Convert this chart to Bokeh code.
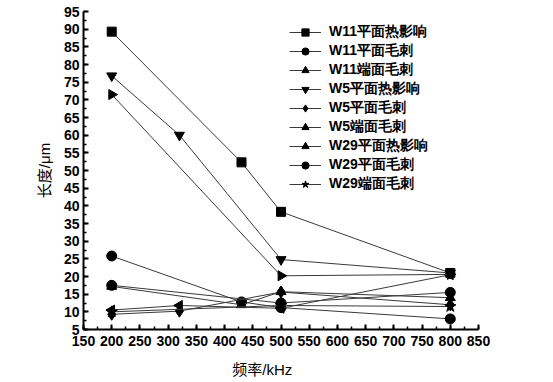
from bokeh.plotting import figure
from bokeh.models import SingleIntervalTicker, Legend, LegendItem, Range1d
from bokeh.embed import file_html
from bokeh.resources import INLINE

# ---- data ----
w11_x = [200, 430, 500, 800]
w5_x = [200, 320, 500, 800]
w29_x = [200, 500, 800]

w11_flat_haz = [89.3, 52.3, 38.3, 21.0]
w11_flat_burr = [25.8, 12.8, 11.2, 8.0]
w11_end_burr = [17.2, 12.0, 15.7, 14.0]
w5_flat_haz = [76.8, 60.0, 24.8, 21.0]
w5_flat_burr = [9.3, 10.2, 15.6, 12.0]
w5_end_burr = [10.5, 11.8, 11.0, 20.5]
w29_flat_haz = [71.5, 20.2, 20.6]
w29_flat_burr = [17.5, 12.5, 15.5]
w29_end_burr = [10.0, 11.8, 11.5]

names = ["W11平面热影响", "W11平面毛刺", "W11端面毛刺",
         "W5平面热影响", "W5平面毛刺", "W5端面毛刺",
         "W29平面热影响", "W29平面毛刺", "W29端面毛刺"]
xs = [w11_x, w11_x, w11_x, w5_x, w5_x, w5_x, w29_x, w29_x, w29_x]
ys = [w11_flat_haz, w11_flat_burr, w11_end_burr,
      w5_flat_haz, w5_flat_burr, w5_end_burr,
      w29_flat_haz, w29_flat_burr, w29_end_burr]
markers = ["square", "circle", "triangle", "inverted_triangle", "diamond",
           "triangle", "triangle", "circle", "star"]
angles = [0, 0, 0, 0, 0, 1.5708, -1.5708, 0, 0]
sizes = [9, 10, 10, 10, 12, 10, 10, 10, 12]

FONT = "Liberation Sans, Noto Sans CJK SC"

p = figure(width=514, height=380, output_backend="svg", toolbar_location=None,
           x_range=Range1d(150, 850), y_range=Range1d(5, 95),
           min_border_left=83, min_border_top=11, min_border_right=36,
           min_border_bottom=10, frame_height=318)
p.outline_line_color = None
p.grid.visible = False

items = []
for n, x, y, m, a, s in zip(names, xs, ys, markers, angles, sizes):
    l = p.line(x, y, line_color="#3a3a3a", line_width=1)
    sc = p.scatter(x, y, marker=m, size=s, angle=a, fill_color="black",
                   line_color="black")
    items.append(LegendItem(label=n, renderers=[l, sc]))

legend = Legend(items=items, location=(206, 136), border_line_alpha=0,
                background_fill_alpha=0, padding=0, margin=0, spacing=1,
                glyph_width=32, glyph_height=18, label_height=18,
                label_standoff=8, label_text_font="Liberation Sans",
                label_text_color="black",
                label_text_font_size="14px", label_text_font_style="bold")
p.add_layout(legend)

for ax, interval in ((p.xaxis, 50), (p.yaxis, 5)):
    ax.ticker = SingleIntervalTicker(interval=interval, num_minor_ticks=2)
    ax.major_tick_in = 5
    ax.major_tick_out = 0
    ax.minor_tick_in = 3
    ax.minor_tick_out = 0
    ax.axis_line_width = 2
    ax.major_tick_line_width = 2
    ax.minor_tick_line_width = 1.5
    ax.major_label_text_font = FONT
    ax.major_label_text_font_size = "14px"
    ax.major_label_text_font_style = "bold"
    ax.major_label_text_color = "black"
    ax.axis_label_text_font = FONT
    ax.axis_label_text_font_size = "15px"
    ax.axis_label_text_font_style = "normal"
    ax.axis_label_text_color = "black"

p.xaxis.axis_label = "频率/kHz" + "\u00a0" * 9
p.yaxis.axis_label = "长度/μm"
p.xaxis.major_label_standoff = 6
p.xaxis.axis_label_standoff = 12
p.yaxis.major_label_standoff = 4
p.yaxis.axis_label_standoff = 8

open("out.html", "w").write(file_html(p, INLINE))
